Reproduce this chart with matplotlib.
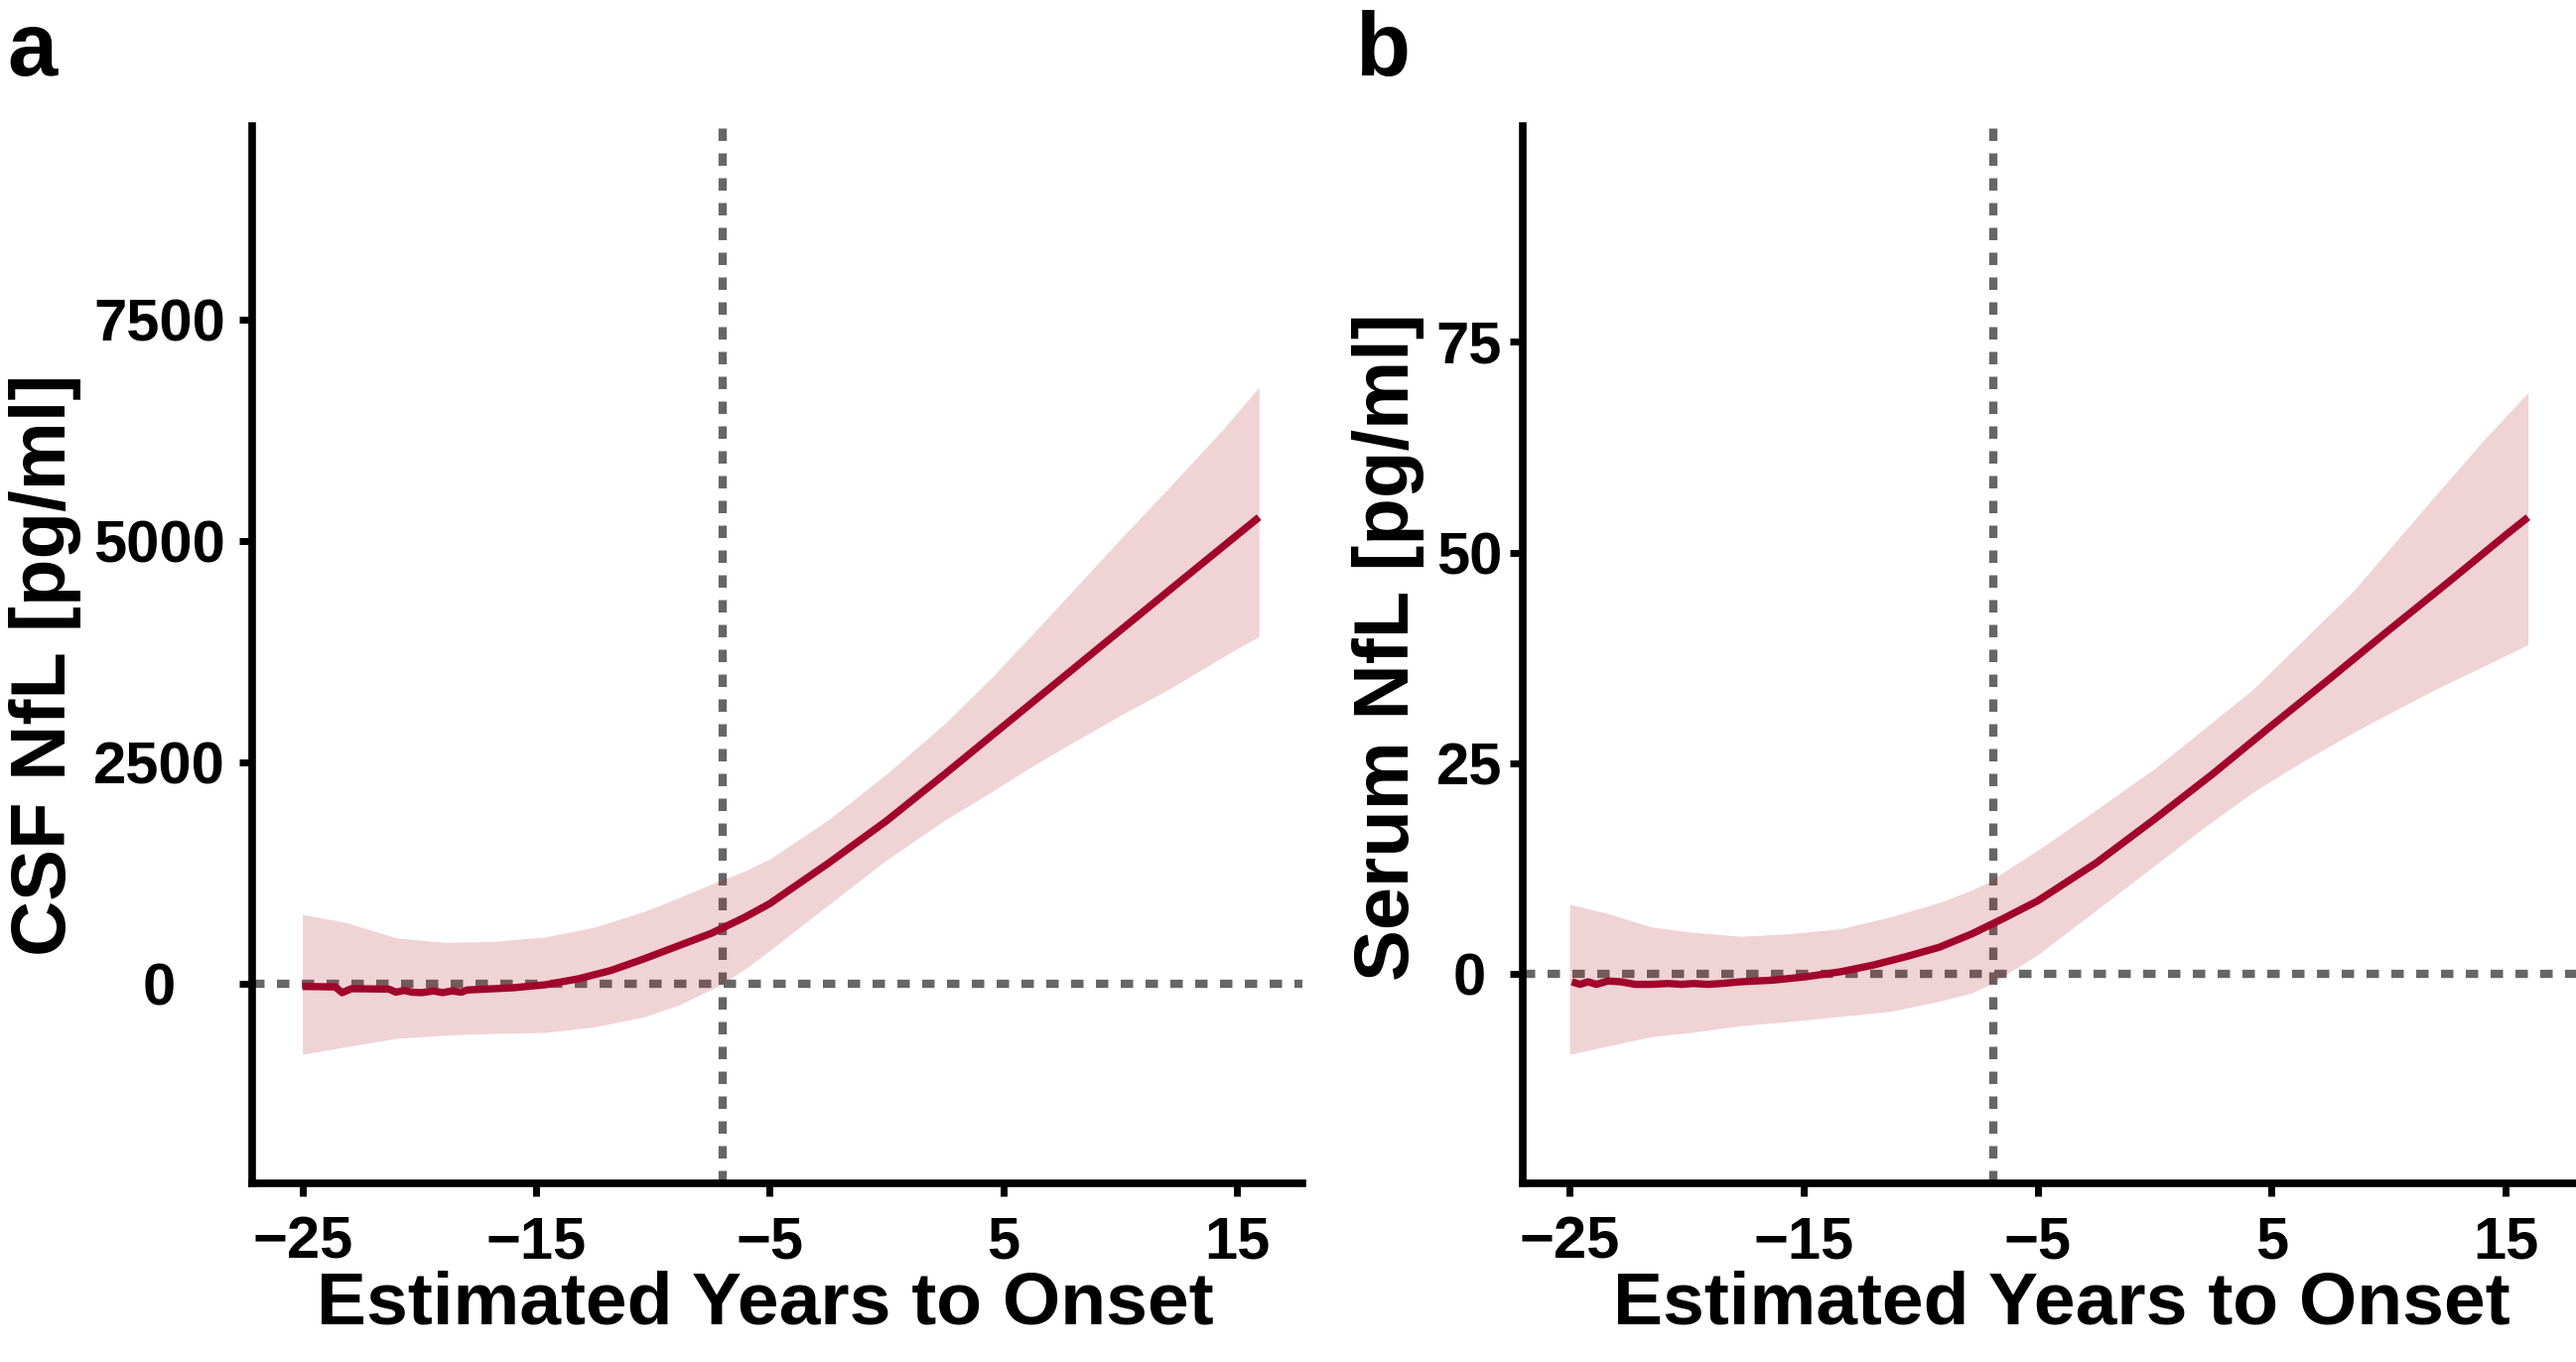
import matplotlib
matplotlib.use("Agg")
import matplotlib.pyplot as plt

# ---------------------------------------------------------------
#  data (estimated years to onset vs NfL)
# ---------------------------------------------------------------

# panel a : CSF NfL
csf_x = [-25, -23.6, -23.3, -22.9, -21.3, -21.0, -20.65, -20.3, -19.9, -19.4,
         -19.0, -18.6, -18.2, -17.95, -16.0, -14.6, -13.2, -11.8, -10.4, -8.9,
         -7.5, -6.1, -5, -2.5, 0, 2.5, 5, 7.5, 10, 12.5, 15, 15.94]
csf_fit = [-30, -35, -100, -55, -60, -95, -75, -95, -100, -80,
           -100, -80, -95, -70, -45, -11, 56, 150, 280, 430,
           570, 747, 905, 1360, 1840, 2370, 2910, 3450, 3990, 4530, 5067, 5269]
csf_band_x = [-25, -23.1, -21.0, -18.9, -16.75, -14.6, -12.5, -10.4, -8.9, -7.2,
              -6.1, -5, -2.5, 0, 2.5, 4.5, 6.0, 7.8, 10.2, 12.1, 14.45, 15.94]
csf_upper = [785, 691, 520, 467, 480, 530, 640, 815, 972, 1158,
             1270, 1410, 1850, 2370, 2940, 3460, 3880, 4390, 5078, 5605, 6278, 6738]
csf_lower = [-796, -710, -617, -579, -560, -549, -486, -374, -240, -25,
             160, 376, 890, 1400, 1850, 2170, 2420, 2700, 3060, 3330, 3700, 3924]
csf_onset = -7.0
csf_yticks = [0, 2500, 5000, 7500]

# panel b : serum NfL
ser_x = [-24.9, -24.55, -24.2, -23.85, -23.35, -22.8, -22.2, -21.5, -20.8, -20.2,
         -19.7, -19.1, -18.5, -17.7, -16.3, -14.9, -13.4, -12.0, -10.6, -9.2,
         -7.8, -6.4, -5, -2.5, 0, 2.5, 5, 7.5, 10, 12.5, 15, 15.95]
ser_fit = [-0.9, -1.2, -0.9, -1.2, -0.8, -0.9, -1.2, -1.2, -1.1, -1.2,
           -1.1, -1.2, -1.1, -0.9, -0.7, -0.3, 0.3, 1.1, 2.1, 3.2,
           4.8, 6.7, 8.7, 13.2, 18.4, 23.8, 29.5, 35.1, 40.8, 46.4, 52.1, 54.2]
ser_band_x = [-25, -23.35, -21.5, -19.8, -17.7, -15.6, -13.4, -11.3, -9.2, -7.8,
              -7.1, -6.4, -5, -2.5, 0, 2.1, 4.2, 6.3, 8.5, 10.2, 12.0, 14.1, 15.95]
ser_upper = [8.3, 7.2, 5.6, 5.0, 4.5, 4.8, 5.4, 6.8, 8.5, 10.0,
             10.9, 12.2, 14.7, 19.5, 24.4, 29.1, 33.8, 39.5, 45.5, 51.0, 56.8, 63.5, 69.0]
ser_lower = [-9.5, -8.5, -7.4, -6.9, -6.1, -5.6, -5.0, -4.4, -3.2, -2.2,
             -1.3, -0.1, 2.3, 7.6, 12.9, 17.4, 21.6, 25.2, 28.7, 31.2, 33.8, 36.6, 39.1]
ser_onset = -6.9
ser_yticks = [0, 25, 50, 75]

x_ticks = [-25, -15, -5, 5, 15]
x_label = "Estimated Years to Onset"

# ---------------------------------------------------------------
#  style
# ---------------------------------------------------------------
plt.rcParams["font.family"] = ["Liberation Sans", "DejaVu Sans"]
plt.rcParams["font.weight"] = "bold"

LINE = "#A1052B"
BAND = "#B4232D"
REF = "#666666"
DASH = (0, (1.5, 1.5))

fig = plt.figure(figsize=(25.95, 13.72), dpi=100)


def draw_panel(rect, x, fit, bx, lo, hi, onset, yticks, xlim, ylim,
               ylabel, ytick_pad, ylab_xy, xlab_xy):
    ax = fig.add_axes(rect)
    ax.axhline(0, color=REF, lw=6, ls=DASH, zorder=1)
    ax.axvline(onset, color=REF, lw=6, ls=DASH, zorder=1)
    ax.fill_between(bx, lo, hi, color=BAND, alpha=0.2, lw=0, zorder=2)
    ax.plot(x, fit, color=LINE, lw=5.3, solid_capstyle="butt", zorder=3)

    ax.set_xlim(*xlim)
    ax.set_ylim(*ylim)
    ax.set_xticks(x_ticks)
    ax.set_yticks(yticks)

    for s in ("top", "right"):
        ax.spines[s].set_visible(False)
    for s in ("left", "bottom"):
        ax.spines[s].set_linewidth(5.5)
        ax.spines[s].set_color("black")

    ax.tick_params(axis="both", length=9.4, width=5, labelsize=43,
                   colors="black")
    ax.tick_params(axis="x", pad=14)
    ax.tick_params(axis="y", pad=ytick_pad)
    for lab in ax.get_yticklabels():
        lab.set_horizontalalignment("center")
        lab.set_fontweight("bold")
    for lab in ax.get_xticklabels():
        lab.set_fontweight("bold")

    ax.set_xlabel(x_label, fontsize=54, fontweight="bold", va="baseline")
    ax.xaxis.set_label_coords(*xlab_xy)
    ax.set_ylabel(ylabel, fontsize=56, fontweight="bold", va="center")
    ax.yaxis.set_label_coords(*ylab_xy)
    return ax


draw_panel([0.0979, 0.1312, 0.4077, 0.7762],
           csf_x, csf_fit, csf_band_x, csf_lower, csf_upper, csf_onset,
           csf_yticks, (-27.15, 17.8), (-2253, 9686),
           "CSF NfL [pg/ml]", 58, (-0.1975, 0.49), (0.4887, -0.1333))

draw_panel([0.5911, 0.1312, 0.4089, 0.7762],
           ser_x, ser_fit, ser_band_x, ser_lower, ser_upper, ser_onset,
           ser_yticks, (-27.0, 18.0), (-24.8, 100.6),
           "Serum NfL [pg/ml]", 29.5, (-0.128, 0.5075), (0.512, -0.1333))

fig.text(0.003, 0.9446, "a", fontsize=65, fontweight="bold", va="baseline")
fig.text(0.526, 0.9446, "b", fontsize=65, fontweight="bold", va="baseline")

fig.savefig("out.png", dpi=100)
